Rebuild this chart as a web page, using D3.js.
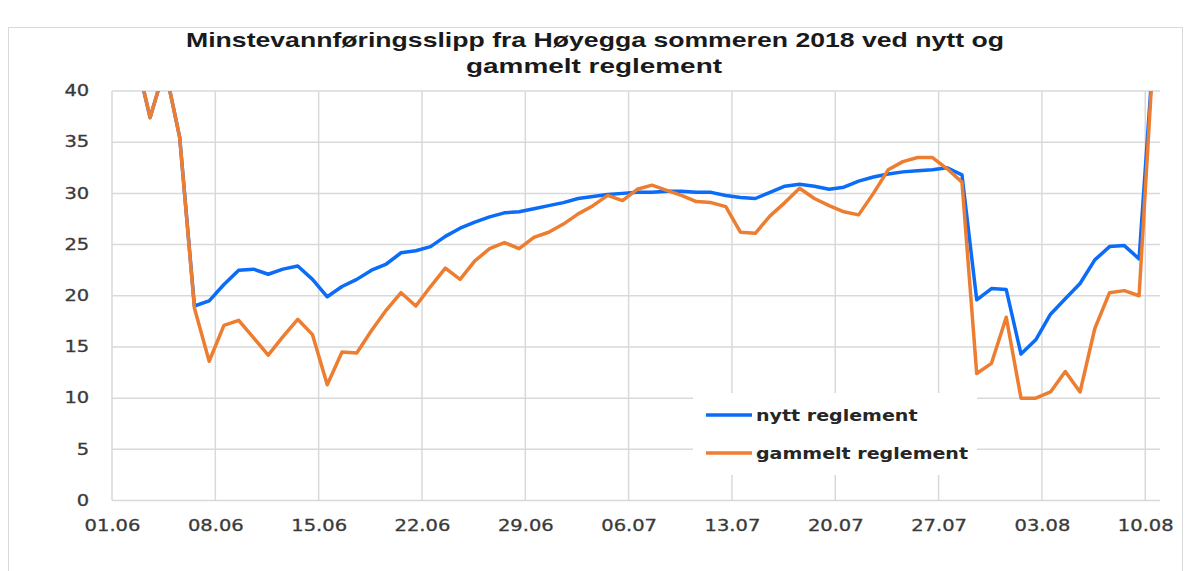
<!DOCTYPE html>
<html>
<head>
<meta charset="utf-8">
<script src="https://cdn.jsdelivr.net/npm/d3@7"></script>
<style>
  body { margin: 0; background: #fff; }
  svg { display: block; }
</style>
</head>
<body>
<svg id="chart" width="1189" height="571"></svg>
<script>
// tittel og serienavn
var titleLines = ["Minstevannføringsslipp fra Høyegga sommeren 2018 ved nytt og", "gammelt reglement"];
var seriesNames = ["nytt reglement", "gammelt reglement"];
var seriesColors = ["#0a6cf7", "#ed7d31"];

// første dag med data, en verdi per dag (m3/s)
var firstDay = "2018-06-02";
var nyttValues = [
  43.5, 37.4, 42.3, 35.5, 19.0, 19.5, 21.1, 22.5, 22.6, 22.1,
  22.6, 22.9, 21.6, 19.9, 20.9, 21.6, 22.5, 23.1, 24.2, 24.4,
  24.8, 25.8, 26.6, 27.2, 27.7, 28.1, 28.2, 28.5, 28.8, 29.1,
  29.5, 29.7, 29.9, 30.0, 30.1, 30.1, 30.2, 30.2, 30.1, 30.1,
  29.8, 29.6, 29.5, 30.1, 30.7, 30.9, 30.7, 30.4, 30.6, 31.2,
  31.6, 31.9, 32.1, 32.2, 32.3, 32.5, 31.8, 19.6, 20.7, 20.6,
  14.3, 15.7, 18.2, 19.7, 21.2, 23.5, 24.8, 24.9, 23.6, 44.5
];
var gammeltValues = [
  43.5, 37.4, 42.3, 35.5, 18.8, 13.6, 17.1, 17.6, 15.9, 14.2,
  16.0, 17.7, 16.2, 11.3, 14.5, 14.4, 16.6, 18.6, 20.3, 19.0,
  20.9, 22.7, 21.6, 23.4, 24.6, 25.2, 24.6, 25.7, 26.2, 27.0,
  28.0, 28.8, 29.8, 29.3, 30.4, 30.8, 30.3, 29.8, 29.2, 29.1,
  28.7, 26.2, 26.1, 27.8, 29.1, 30.5, 29.5, 28.8, 28.2, 27.9,
  30.0, 32.3, 33.1, 33.5, 33.5, 32.4, 31.1, 12.4, 13.4, 17.9,
  10.0, 10.0, 10.6, 12.6, 10.6, 16.8, 20.3, 20.5, 20.0, 44.5
];

// akser
var xDomain = ["2018-06-01", "2018-08-11"];
var xTickDays = ["2018-06-01", "2018-06-08", "2018-06-15", "2018-06-22", "2018-06-29",
                 "2018-07-06", "2018-07-13", "2018-07-20", "2018-07-27", "2018-08-03", "2018-08-10"];
var yDomain = [0, 40];
var yTicks = [0, 5, 10, 15, 20, 25, 30, 35, 40];

var parse = d3.timeParse("%Y-%m-%d");
var fmt = d3.timeFormat("%d.%m");

var svg = d3.select("#chart");
var plotLeft = 112, plotRight = 1160, plotTop = 91, plotBottom = 500.5;

var x = d3.scaleTime()
    .domain(xDomain.map(parse))
    .range([plotLeft, plotRight]);
var y = d3.scaleLinear()
    .domain(yDomain)
    .range([plotBottom, plotTop]);

// ramme rundt diagrammet
svg.append("rect")
    .attr("x", 8.5).attr("y", 27.5)
    .attr("width", 1174).attr("height", 570)
    .attr("fill", "#fff")
    .attr("stroke", "#d9d9d9");

// tittel
svg.selectAll(".title")
    .data(titleLines)
    .enter()
    .append("text")
    .attr("class", "title")
    .attr("x", function(d, i) { return i ? 594 : 595; })
    .attr("y", function(d, i) { return 47 + i * 26; })
    .attr("text-anchor", "middle")
    .attr("textLength", function(d, i) { return i ? 256 : 818; })
    .attr("lengthAdjust", "spacingAndGlyphs")
    .style("font-family", "Liberation Sans, Arial, sans-serif")
    .style("font-weight", "bold")
    .style("font-size", "21px")
    .style("fill", "#1a1a1a")
    .text(function(d) { return d; });

// rutenett
var grid = svg.append("g").attr("stroke", "#d9d9d9").attr("stroke-width", 1.5);
grid.selectAll(".hgrid")
    .data(yTicks)
    .enter()
    .append("line")
    .attr("x1", plotLeft).attr("x2", plotRight)
    .attr("y1", function(d) { return y(d); })
    .attr("y2", function(d) { return y(d); });
grid.selectAll(".vgrid")
    .data(xTickDays)
    .enter()
    .append("line")
    .attr("x1", function(d) { return x(parse(d)); })
    .attr("x2", function(d) { return x(parse(d)); })
    .attr("y1", plotTop).attr("y2", plotBottom);

// y-akse tekst
var yAxis = svg.append("g")
    .attr("transform", "translate(" + plotLeft + ",0)")
    .call(d3.axisLeft(y).tickValues(yTicks).tickSize(0).tickPadding(17.5));
yAxis.select(".domain").remove();

// x-akse tekst
var xAxis = svg.append("g")
    .attr("transform", "translate(0," + plotBottom + ")")
    .call(d3.axisBottom(x).tickValues(xTickDays.map(parse)).tickFormat(fmt).tickSize(0).tickPadding(20));
xAxis.select(".domain").remove();

svg.selectAll(".tick text")
    .attr("transform", "scale(1.3,1)")
    .style("font-family", "DejaVu Sans, sans-serif")
    .style("font-size", "15px")
    .style("fill", "#3a3a3a")
    .style("stroke", "#3a3a3a")
    .style("stroke-width", 0.3);

// linjene, klippet mot plottet
svg.append("clipPath").attr("id", "plotclip")
    .append("rect")
    .attr("x", plotLeft).attr("y", plotTop)
    .attr("width", plotRight - plotLeft).attr("height", plotBottom - plotTop);

var start = parse(firstDay);
function toPoints(values) {
    return values.map(function(v, i) {
        // Excel legger punktet midt i dagen
        return { date: d3.timeHour.offset(d3.timeDay.offset(start, i), 14), value: v };
    });
}

var line = d3.line()
    .x(function(d) { return x(d.date); })
    .y(function(d) { return y(d.value); });

var lines = svg.append("g").attr("clip-path", "url(#plotclip)");
[nyttValues, gammeltValues].forEach(function(vals, i) {
    lines.append("path")
        .datum(toPoints(vals))
        .attr("d", line)
        .attr("fill", "none")
        .attr("stroke", seriesColors[i])
        .attr("stroke-width", 3.5)
        .attr("stroke-linejoin", "round");
});

// forklaring
var legend = svg.append("g");
legend.append("rect")
    .attr("x", 693).attr("y", 393)
    .attr("width", 284).attr("height", 82)
    .attr("fill", "#fff");

var items = legend.selectAll(".item")
    .data(seriesNames)
    .enter()
    .append("g")
    .attr("class", "item")
    .attr("transform", function(d, i) { return "translate(706," + (415 + i * 38) + ")"; });
items.append("line")
    .attr("x1", 0).attr("x2", 46)
    .attr("stroke", function(d, i) { return seriesColors[i]; })
    .attr("stroke-width", 3.5);
items.append("text")
    .attr("transform", "translate(50,6) scale(1.19,1)")
    .style("font-family", "DejaVu Sans, sans-serif")
    .style("font-weight", "bold")
    .style("font-size", "16px")
    .style("fill", "#262626")
    .text(function(d) { return d; });
</script>
</body>
</html>
